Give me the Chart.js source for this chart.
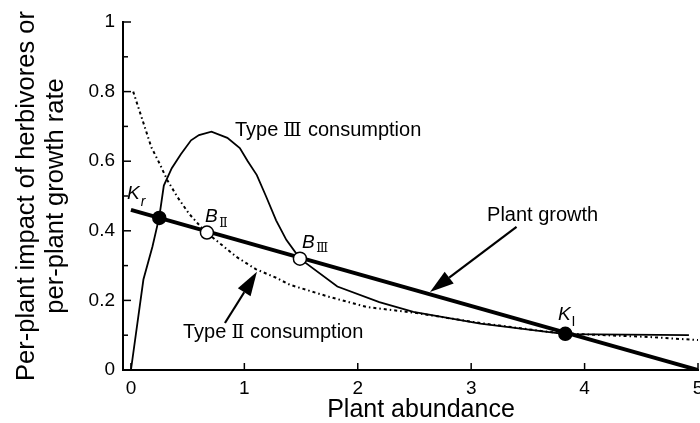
<!DOCTYPE html>
<html><head><meta charset="utf-8">
<script src="https://cdn.jsdelivr.net/npm/chart.js@4"></script>
<style>
html,body{margin:0;padding:0;overflow:hidden;background:#fff;width:700px;height:423px}
#wrap{width:712px;height:423px;position:relative}
</style></head>
<body><div id="wrap"><canvas id="c" width="712" height="423"></canvas></div>
<script>
// ---- data ----
const xTicks = [0, 1, 2, 3, 4, 5];
const yTicks = [0, 0.2, 0.4, 0.6, 0.8, 1];
const yMinorTicks = [0.1, 0.3, 0.5, 0.7, 0.9];

const growthX = [0, 5];
const growthY = [0.46, 0];

const typeIIIx = [0, 0.11, 0.19, 0.25, 0.29, 0.36, 0.44, 0.53, 0.60, 0.71, 0.85, 0.96, 1.03, 1.11, 1.19, 1.28, 1.37, 1.49, 1.82, 2.19, 2.49, 3.08, 3.83, 4.92];
const typeIIIy = [0, 0.26, 0.355, 0.44, 0.53, 0.58, 0.62, 0.66, 0.675, 0.685, 0.667, 0.638, 0.60, 0.56, 0.50, 0.43, 0.374, 0.32, 0.24, 0.195, 0.167, 0.133, 0.103, 0.10];

const typeIIx = [0.02, 0.10, 0.18, 0.25, 0.32, 0.41, 0.51, 0.62, 0.67, 0.78, 0.93, 1.10, 1.28, 1.40, 1.75, 2.08, 2.49, 3.08, 3.67, 3.96, 4.56, 5.0];
const typeIIy = [0.80, 0.72, 0.64, 0.595, 0.546, 0.497, 0.45, 0.41, 0.394, 0.365, 0.325, 0.29, 0.265, 0.245, 0.21, 0.181, 0.165, 0.135, 0.11, 0.103, 0.095, 0.086];

const eqMain = ['K', 'B', 'B', 'K'];
const eqSub = ['r', 'Ⅱ', 'Ⅲ', 'I'];
const eqX = [0.25, 0.67, 1.49, 3.83];
const eqY = [0.437, 0.395, 0.32, 0.104];
const eqFilled = [true, false, false, true];

const curveLabels = ['Type Ⅲ consumption', 'Plant growth', 'Type Ⅱ consumption'];
const xTitle = 'Plant abundance';
const yTitle = ['Per-plant impact of herbivores or', 'per-plant growth rate'];

// ---- layout / style (not data) ----
const FONT = '"Liberation Sans", Arial, sans-serif';
const NUMFONT = '"DejaVu Serif", "Liberation Serif", serif';
const curveLabelPos = [[0.917, 0.672], [3.14, 0.429], [0.459, 0.092]];
const eqLabelPos = [[-0.035, 0.491], [0.653, 0.425], [1.508, 0.351], [3.765, 0.144]];
const eqSubStyle = [{dy: 7, italic: true, size: 14}, {dy: 5, italic: false, size: 13}, {dy: 4, italic: false, size: 13}, {dy: 6, italic: false, size: 14}];
const arrows = [
  {from: [3.40, 0.411], to: [2.637, 0.224]},
  {from: [0.829, 0.135], to: [1.111, 0.282]}
];

const zip = (xs, ys) => xs.map((x, i) => ({x, y: ys[i]}));
const isNumeral = ch => ch === 'Ⅱ' || ch === 'Ⅲ';

// draw text where Roman-numeral glyphs use a serif font, tightly spaced
function mixedText(ctx, text, x, y, size, style) {
  const parts = [];
  for (const ch of text) {
    const n = isNumeral(ch);
    if (parts.length && parts[parts.length - 1].n === n) parts[parts.length - 1].t += ch;
    else parts.push({t: ch, n});
  }
  let cx = x;
  parts.forEach(p => {
    ctx.font = (style || '') + ' ' + (p.n ? size * 0.95 : size) + 'px ' + (p.n ? NUMFONT : FONT);
    const m = ctx.measureText(p.t);
    if (p.n) {
      const l = m.actualBoundingBoxLeft || 0, r = m.actualBoundingBoxRight || m.width;
      ctx.fillText(p.t, cx + l + 0.5, y);
      cx += l + r + 1.5;
    } else {
      ctx.fillText(p.t, cx, y);
      cx += m.width;
    }
  });
  return cx - x;
}

const overlay = {
  id: 'overlay',
  afterDraw(chart) {
    const ctx = chart.ctx;
    const xs = chart.scales.x, ys = chart.scales.y;
    const px = v => xs.getPixelForValue(v), py = v => ys.getPixelForValue(v);
    ctx.save();
    ctx.strokeStyle = '#000';
    ctx.fillStyle = '#000';
    // inward ticks
    ctx.lineWidth = 1.5;
    const left = chart.chartArea.left, bottom = chart.chartArea.bottom;
    yTicks.forEach(v => { ctx.beginPath(); ctx.moveTo(left, py(v)); ctx.lineTo(left + 8, py(v)); ctx.stroke(); });
    yMinorTicks.forEach(v => { ctx.beginPath(); ctx.moveTo(left, py(v)); ctx.lineTo(left + 5, py(v)); ctx.stroke(); });
    xTicks.forEach(v => { ctx.beginPath(); ctx.moveTo(px(v), bottom); ctx.lineTo(px(v), bottom - 7); ctx.stroke(); });

    // arrows
    arrows.forEach(a => {
      const x1 = px(a.from[0]), y1 = py(a.from[1]), x2 = px(a.to[0]), y2 = py(a.to[1]);
      const ang = Math.atan2(y2 - y1, x2 - x1);
      const L = 24, W = 7.5;
      const bx = x2 - L * Math.cos(ang), by = y2 - L * Math.sin(ang);
      ctx.lineWidth = 2.2;
      ctx.beginPath(); ctx.moveTo(x1, y1); ctx.lineTo(bx, by); ctx.stroke();
      ctx.beginPath();
      ctx.moveTo(x2, y2);
      ctx.lineTo(bx + W * Math.sin(ang), by - W * Math.cos(ang));
      ctx.lineTo(bx - W * Math.sin(ang), by + W * Math.cos(ang));
      ctx.closePath(); ctx.fill();
    });

    // curve labels
    ctx.textBaseline = 'alphabetic';
    ctx.textAlign = 'left';
    curveLabels.forEach((t, i) => mixedText(ctx, t, px(curveLabelPos[i][0]), py(curveLabelPos[i][1]), 20, ''));

    // equilibrium labels
    eqMain.forEach((m, i) => {
      const x = px(eqLabelPos[i][0]), y = py(eqLabelPos[i][1]);
      const w = mixedText(ctx, m, x, y, 19, 'italic');
      const s = eqSubStyle[i];
      mixedText(ctx, eqSub[i], x + w + 1, y + s.dy, s.size, s.italic ? 'italic' : '');
    });

    // x title
    ctx.font = '25px ' + FONT;
    ctx.textAlign = 'center';
    ctx.textBaseline = 'middle';
    ctx.fillText(xTitle, 421, 410);
    ctx.restore();
  }
};

new Chart(document.getElementById('c'), {
  type: 'scatter',
  data: {
    datasets: [
      {
        label: 'Equilibria', data: zip(eqX, eqY), showLine: false,
        pointRadius: 6.5, pointStyle: 'circle',
        pointBackgroundColor: eqFilled.map(f => f ? '#000' : '#fff'),
        pointBorderColor: '#000', pointBorderWidth: 1.5, order: 0
      },
      {
        label: 'Plant growth', data: zip(growthX, growthY), showLine: true,
        borderColor: '#000', borderWidth: 4, pointRadius: 0, order: 1
      },
      {
        label: 'Type III consumption', data: zip(typeIIIx, typeIIIy), showLine: true,
        borderColor: '#000', borderWidth: 1.8, pointRadius: 0, tension: 0, order: 2
      },
      {
        label: 'Type II consumption', data: zip(typeIIx, typeIIy), showLine: true,
        borderColor: '#000', borderWidth: 2, borderDash: [3, 3, 1.5, 3], pointRadius: 0, tension: 0, order: 3
      }
    ]
  },
  options: {
    responsive: false, animation: false, devicePixelRatio: 1,
    layout: {padding: {top: 22, right: 14, left: 0, bottom: 0}},
    plugins: {legend: {display: false}, tooltip: {enabled: false}},
    scales: {
      x: {
        type: 'linear', min: -0.07, max: 5,
        afterBuildTicks: s => { s.ticks = xTicks.map(v => ({value: v})); },
        afterFit: s => { s.height = 53; },
        grid: {display: false, drawTicks: false},
        border: {display: true, color: '#000', width: 2},
        ticks: {color: '#000', font: {family: FONT, size: 19}, padding: 7, maxRotation: 0, autoSkip: false, callback: v => String(v)}
      },
      y: {
        type: 'linear', min: 0, max: 1,
        afterBuildTicks: s => { s.ticks = yTicks.map(v => ({value: v})); },
        afterFit: s => { s.width = 123; },
        grid: {display: false, drawTicks: false},
        border: {display: true, color: '#000', width: 2},
        ticks: {color: '#000', font: {family: FONT, size: 19}, padding: 8, autoSkip: false, callback: v => String(v)},
        title: {display: true, text: yTitle, color: '#000', font: {family: FONT, size: 25.5, lineHeight: 1.12}, padding: {top: 13, bottom: 0}}
      }
    }
  },
  plugins: [overlay]
});
</script>
</body></html>
